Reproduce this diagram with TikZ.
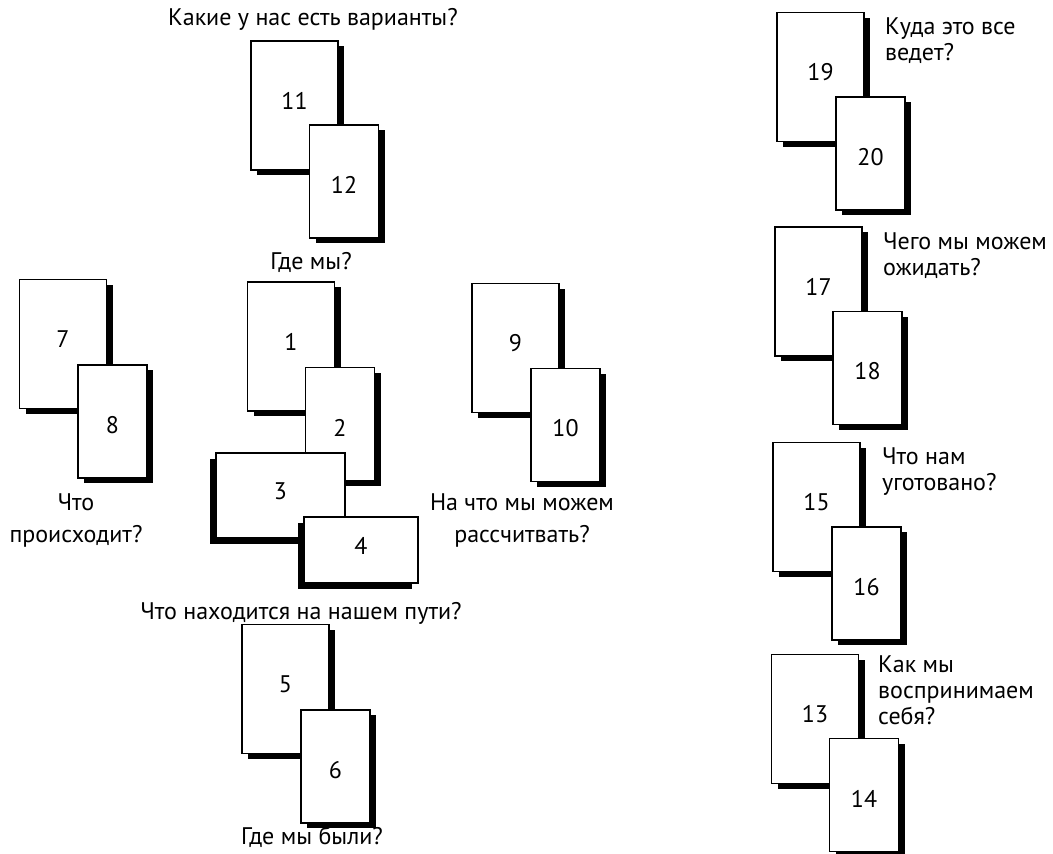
\documentclass[tikz,border=0pt]{standalone}
\usepackage{fontspec}
\setmainfont{PT Sans}
\usetikzlibrary{shadows}
\begin{document}
\begin{tikzpicture}[x=1pt,y=-1pt]
\tikzset{
  card/.style={draw=black, line width=1.3pt, fill=white, inner sep=0pt,
    font=\fontsize{24}{24}\selectfont},
  pshadow/.style={drop shadow={shadow xshift=6pt, shadow yshift=-5pt, opacity=1, fill=black}},
  lshadow/.style={drop shadow={shadow xshift=-6pt, shadow yshift=-6pt, opacity=1, fill=black}},
  bigcard/.style={card, pshadow, minimum width=87pt, minimum height=129pt, text depth=10pt},
  smallcard/.style={card, pshadow, minimum width=69pt, minimum height=113pt, text height=24pt},
  landcard/.style={card, lshadow, text depth=8pt},
  lbl/.style={inner sep=0pt, font=\fontsize{24}{26}\selectfont},
  lblwide/.style={inner sep=0pt, font=\fontsize{24}{32}\selectfont},
}
\useasboundingbox (0,0) rectangle (1053,854);
\fill[white] (0,0) rectangle (1053,854);

% --- top group 11/12
\node[bigcard]   (c11) at (294.5,105.5) {11};
\node[smallcard] (c12) at (344,181.5) {12};
\node[lbl, anchor=base] (t11) at (313,25) {Какие у нас есть варианты?};
\node[lbl, anchor=base] (t12) at (311,269) {Где мы?};

% --- left group 7/8
\node[bigcard]   (c7) at (63,344) {7};
\node[smallcard] (c8) at (112.5,421.5) {8};
\node[lblwide, align=center, anchor=north] (t7) at (76,493) {Что\\происходит?};

% --- central cross 1/2/3/4
\node[bigcard]   (c1) at (291,346.5) {1};
\node[smallcard] (c2) at (340,424) {2};
\node[landcard, minimum width=129pt, minimum height=85pt] (c3) at (280.5,495.5) {3};
\node[landcard, minimum width=114pt, minimum height=66pt] (c4) at (361,550) {4};

% --- right of center 9/10
\node[bigcard]   (c9) at (515.5,348) {9};
\node[smallcard] (c10) at (565.5,425) {10};
\node[lblwide, align=center, anchor=north] (t9) at (522,493) {На что мы можем\\рассчитвать?};

% --- bottom 5/6
\node[lbl, anchor=base] (t4) at (301,619) {Что находится на нашем пути?};
\node[bigcard]   (c5) at (285.5,689) {5};
\node[smallcard] (c6) at (335.5,766.5) {6};
\node[lbl, anchor=base] (t6) at (312,844) {Где мы были?};

% --- right column
\node[bigcard]   (c19) at (820.5,77) {19};
\node[smallcard] (c20) at (870.5,153.5) {20};
\node[lbl, align=left, anchor=north west] (t19) at (885,17.5) {Куда это все\\ведет?};

\node[bigcard]   (c17) at (818.5,291.5) {17};
\node[smallcard] (c18) at (867.5,368) {18};
\node[lbl, align=left, anchor=north west] (t17) at (883,232.5) {Чего мы можем\\ожидать?};

\node[bigcard]   (c15) at (816.5,507) {15};
\node[smallcard] (c16) at (866.5,583.5) {16};
\node[lbl, align=left, anchor=north west] (t15) at (882,447.5) {Что нам\\уготовано?};

\node[bigcard]   (c13) at (815,719) {13};
\node[smallcard] (c14) at (864,795) {14};
\node[lbl, align=left, anchor=north west] (t13) at (878,655.5) {Как мы\\воспринимаем\\себя?};
\end{tikzpicture}
\end{document}
